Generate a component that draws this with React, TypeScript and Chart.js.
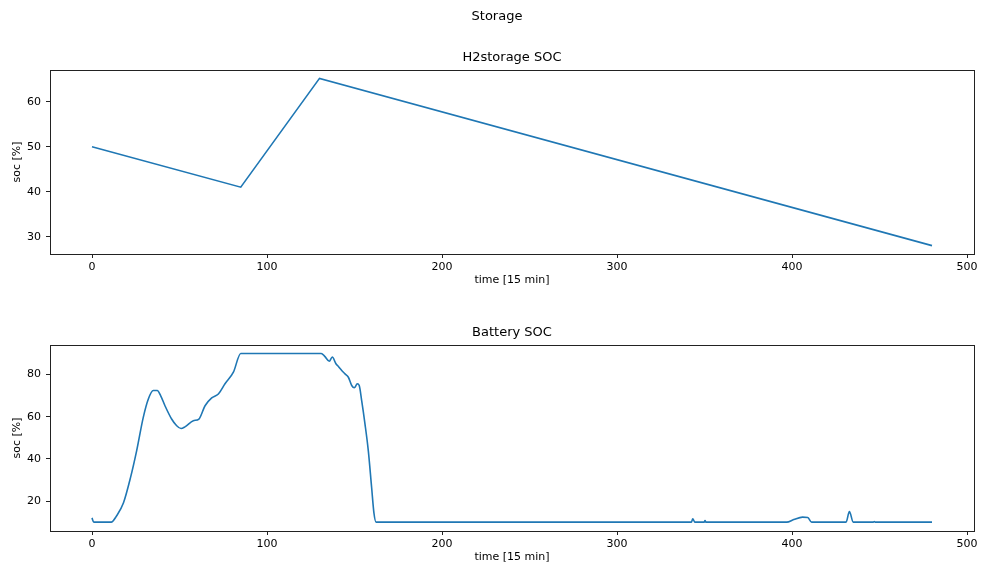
import React, { useEffect, useRef } from "react";
import { Chart, registerables } from "chart.js";

Chart.register(...registerables);

const suptitle = "Storage";
const h2Title = "H2storage SOC";
const batTitle = "Battery SOC";
const xLabel = "time [15 min]";
const yLabel = "soc [%]";

const xTicks = [0, 100, 200, 300, 400, 500];
const h2YTicks = [30, 40, 50, 60];
const batYTicks = [20, 40, 60, 80];

const h2Time = [0, 85, 130, 480];
const h2Soc = [50, 41, 65.2, 28];

const batTime = [0, 1, 11, 14, 18, 22, 25.5, 29.3, 32.2, 35, 37.3, 39.2, 41.7, 45.5, 48.4, 50.9, 53.1, 57.9, 61.1, 64.6, 68.4, 72.2, 76, 80.8, 85, 131, 133, 135.6, 137.3, 139.4, 140.8, 142.7, 144.6, 146.5, 148.4, 149.9, 151.6, 152.7, 154.1, 156, 157.9, 159.8, 161.1, 162.3, 342.5, 343.3, 344.5, 349.8, 350.3, 350.8, 397, 401, 406, 409, 411.2, 430.9, 432.8, 435, 446.5, 447, 447.5, 480];
const batSoc = [12, 10, 10, 12.9, 19.2, 31.1, 43.8, 59.7, 68.4, 72.4, 72.4, 70, 65.2, 58.9, 55.7, 54.4, 55.2, 58.1, 58.9, 65.2, 68.9, 70.8, 75.6, 81.1, 90, 90, 88.6, 86.3, 88.3, 85.1, 83.8, 81.9, 80.3, 78.7, 74.8, 73.7, 75.6, 74.8, 67.6, 56.5, 43.8, 26.3, 14.4, 10, 10, 11.6, 10, 10, 10.7, 10, 10, 11.2, 12.4, 12.2, 10, 10, 15, 10, 10, 10.3, 10, 10];

const FONT = "'DejaVu Sans', sans-serif";
const LINE = "#1f77b4";

function makeConfig(
  times: number[],
  values: number[],
  smooth: boolean,
  yMin: number,
  yMax: number,
  yTicks: number[],
  title: string,
  padTop: number,
  xAxisHeight: number,
  xTitlePadBottom: number
): any {
  const framePlugin = {
    id: "frame",
    afterDraw(chart: any) {
      const { ctx, chartArea } = chart;
      ctx.save();
      ctx.strokeStyle = "#222";
      ctx.lineWidth = 1;
      ctx.strokeRect(
        Math.round(chartArea.left) + 0.5,
        Math.round(chartArea.top) + 0.5,
        Math.round(chartArea.right - chartArea.left),
        Math.round(chartArea.bottom - chartArea.top)
      );
      ctx.fillStyle = "#000";
      ctx.font = `13px ${FONT}`;
      ctx.textAlign = "center";
      ctx.textBaseline = "middle";
      ctx.fillText(title, (chartArea.left + chartArea.right) / 2, chartArea.top - 12);
      ctx.restore();
    },
  };
  const ds: any = {
    data: times.map((t, i) => ({ x: t, y: values[i] })),
    borderColor: LINE,
    borderWidth: 1.6,
    pointRadius: 0,
    fill: false,
    tension: 0,
  };
  if (smooth) ds.cubicInterpolationMode = "monotone";
  return {
    type: "line",
    data: { datasets: [ds] },
    options: {
      animation: false,
      responsive: false,
      layout: { padding: { top: padTop, right: 10, left: 0, bottom: 0 } },
      plugins: { legend: { display: false }, tooltip: { enabled: false }, title: { display: false } },
      scales: {
        x: {
          type: "linear",
          min: -24,
          max: 504,
          afterFit: (s: any) => {
            s.height = xAxisHeight;
          },
          afterBuildTicks: (s: any) => {
            s.ticks = xTicks.map((v) => ({ value: v }));
          },
          grid: { drawOnChartArea: false, drawTicks: true, tickLength: 4, tickColor: "#222" },
          border: { display: false },
          ticks: { color: "#000", font: { size: 11, family: FONT }, padding: 3, maxRotation: 0 },
          title: {
            display: true,
            text: xLabel,
            color: "#000",
            font: { size: 11, family: FONT },
            padding: { top: 0, bottom: xTitlePadBottom },
          },
        },
        y: {
          type: "linear",
          min: yMin,
          max: yMax,
          afterFit: (s: any) => {
            s.width = 50;
          },
          afterBuildTicks: (s: any) => {
            s.ticks = yTicks.map((v) => ({ value: v }));
          },
          grid: { drawOnChartArea: false, drawTicks: true, tickLength: 4, tickColor: "#222" },
          border: { display: false },
          ticks: { color: "#000", font: { size: 11, family: FONT }, padding: 5 },
          title: {
            display: true,
            text: yLabel,
            color: "#000",
            font: { size: 11, family: FONT },
            padding: { top: 10.7, bottom: 0 },
          },
        },
      },
    },
    plugins: [framePlugin],
  };
}

export default function App() {
  const topRef = useRef<HTMLCanvasElement>(null);
  const botRef = useRef<HTMLCanvasElement>(null);

  useEffect(() => {
    const c1 = new Chart(
      topRef.current as HTMLCanvasElement,
      makeConfig(h2Time, h2Soc, false, 26.14, 67.06, h2YTicks, h2Title, 70, 36, 3)
    );
    const c2 = new Chart(
      botRef.current as HTMLCanvasElement,
      makeConfig(batTime, batSoc, true, 5.8, 94, batYTicks, batTitle, 55, 39, 6.4)
    );
    return () => {
      c1.destroy();
      c2.destroy();
    };
  }, []);

  return (
    <div style={{ position: "fixed", left: 0, top: 0, width: 984, height: 570, background: "#fff" }}>
      <canvas ref={topRef} width={984} height={290} style={{ position: "absolute", left: 0, top: 0, display: "block" }} />
      <canvas ref={botRef} width={984} height={280} style={{ position: "absolute", left: 0, top: 290, display: "block" }} />
      <div
        style={{
          position: "absolute",
          left: 0,
          top: 7,
          width: 994,
          textAlign: "center",
          fontFamily: FONT,
          fontSize: 13,
          lineHeight: "18px",
          color: "#000",
        }}
      >
        {suptitle}
      </div>
    </div>
  );
}
